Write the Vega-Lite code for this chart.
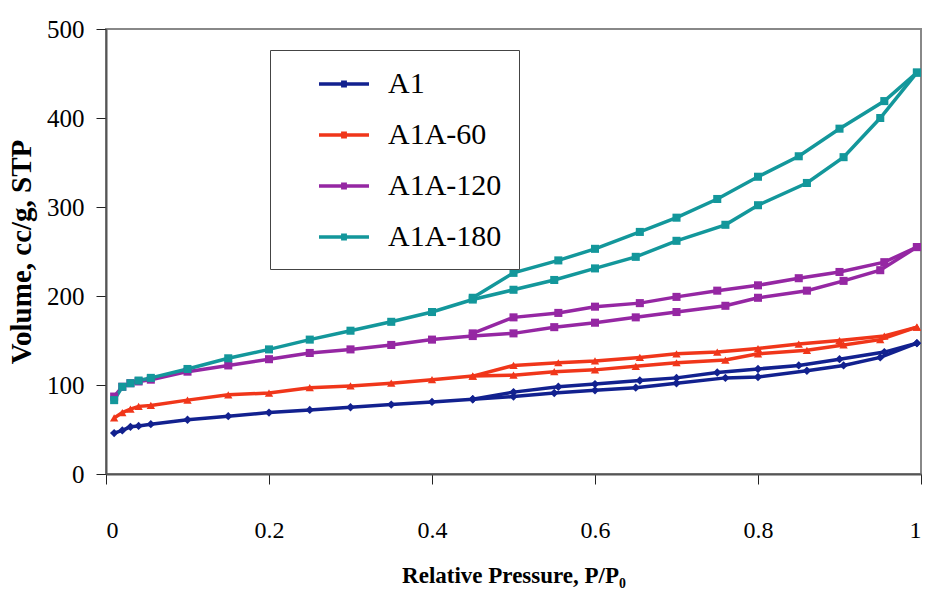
{
  "$schema": "https://vega.github.io/schema/vega-lite/v6.json",
  "width": 815,
  "height": 445,
  "autosize": {"type": "none"},
  "padding": {"left": 106, "top": 29, "right": 8, "bottom": 132},
  "background": "white",
  "config": {
    "view": {"stroke": "#888888", "strokeWidth": 2},
    "font": "Liberation Serif",
    "axis": {"grid": false, "labelColor": "black", "titleColor": "black", "tickColor": "#222", "domainColor": "#555", "domainWidth": 2, "tickSize": 10, "labelFont": "Liberation Serif", "titleFont": "Liberation Serif", "titleFontWeight": "bold"}
  },
  "data": {"values": [
    {"s":"A1","b":"ads","p":0.01,"v":46},{"s":"A1","b":"ads","p":0.02,"v":49},{"s":"A1","b":"ads","p":0.03,"v":53},{"s":"A1","b":"ads","p":0.04,"v":54},{"s":"A1","b":"ads","p":0.055,"v":56},{"s":"A1","b":"ads","p":0.1,"v":61},{"s":"A1","b":"ads","p":0.15,"v":65},{"s":"A1","b":"ads","p":0.2,"v":69},{"s":"A1","b":"ads","p":0.25,"v":72},{"s":"A1","b":"ads","p":0.3,"v":75},{"s":"A1","b":"ads","p":0.35,"v":78},{"s":"A1","b":"ads","p":0.4,"v":81},{"s":"A1","b":"ads","p":0.45,"v":84},{"s":"A1","b":"ads","p":0.5,"v":87},{"s":"A1","b":"ads","p":0.55,"v":91},{"s":"A1","b":"ads","p":0.6,"v":94},{"s":"A1","b":"ads","p":0.65,"v":97},{"s":"A1","b":"ads","p":0.7,"v":102},{"s":"A1","b":"ads","p":0.76,"v":108},{"s":"A1","b":"ads","p":0.8,"v":109},{"s":"A1","b":"ads","p":0.86,"v":116},{"s":"A1","b":"ads","p":0.905,"v":122},{"s":"A1","b":"ads","p":0.95,"v":131},{"s":"A1","b":"ads","p":0.995,"v":147},
    {"s":"A1","b":"des","p":0.995,"v":147},{"s":"A1","b":"des","p":0.955,"v":137},{"s":"A1","b":"des","p":0.9,"v":129},{"s":"A1","b":"des","p":0.85,"v":122},{"s":"A1","b":"des","p":0.8,"v":118},{"s":"A1","b":"des","p":0.75,"v":114},{"s":"A1","b":"des","p":0.7,"v":108},{"s":"A1","b":"des","p":0.655,"v":105},{"s":"A1","b":"des","p":0.6,"v":101},{"s":"A1","b":"des","p":0.555,"v":98},{"s":"A1","b":"des","p":0.5,"v":92},{"s":"A1","b":"des","p":0.45,"v":84},
    {"s":"A1A-60","b":"ads","p":0.01,"v":63},{"s":"A1A-60","b":"ads","p":0.02,"v":69},{"s":"A1A-60","b":"ads","p":0.03,"v":73},{"s":"A1A-60","b":"ads","p":0.04,"v":76},{"s":"A1A-60","b":"ads","p":0.055,"v":77},{"s":"A1A-60","b":"ads","p":0.1,"v":83},{"s":"A1A-60","b":"ads","p":0.15,"v":89},{"s":"A1A-60","b":"ads","p":0.2,"v":91},{"s":"A1A-60","b":"ads","p":0.25,"v":97},{"s":"A1A-60","b":"ads","p":0.3,"v":99},{"s":"A1A-60","b":"ads","p":0.35,"v":102},{"s":"A1A-60","b":"ads","p":0.4,"v":106},{"s":"A1A-60","b":"ads","p":0.45,"v":110},{"s":"A1A-60","b":"ads","p":0.5,"v":111},{"s":"A1A-60","b":"ads","p":0.55,"v":115},{"s":"A1A-60","b":"ads","p":0.6,"v":117},{"s":"A1A-60","b":"ads","p":0.65,"v":121},{"s":"A1A-60","b":"ads","p":0.7,"v":125},{"s":"A1A-60","b":"ads","p":0.76,"v":128},{"s":"A1A-60","b":"ads","p":0.8,"v":135},{"s":"A1A-60","b":"ads","p":0.86,"v":139},{"s":"A1A-60","b":"ads","p":0.905,"v":145},{"s":"A1A-60","b":"ads","p":0.95,"v":151},{"s":"A1A-60","b":"ads","p":0.995,"v":165},
    {"s":"A1A-60","b":"des","p":0.995,"v":165},{"s":"A1A-60","b":"des","p":0.955,"v":155},{"s":"A1A-60","b":"des","p":0.9,"v":150},{"s":"A1A-60","b":"des","p":0.85,"v":146},{"s":"A1A-60","b":"des","p":0.8,"v":141},{"s":"A1A-60","b":"des","p":0.75,"v":137},{"s":"A1A-60","b":"des","p":0.7,"v":135},{"s":"A1A-60","b":"des","p":0.655,"v":131},{"s":"A1A-60","b":"des","p":0.6,"v":127},{"s":"A1A-60","b":"des","p":0.555,"v":125},{"s":"A1A-60","b":"des","p":0.5,"v":122},{"s":"A1A-60","b":"des","p":0.45,"v":110},
    {"s":"A1A-120","b":"ads","p":0.01,"v":87},{"s":"A1A-120","b":"ads","p":0.02,"v":98},{"s":"A1A-120","b":"ads","p":0.03,"v":102},{"s":"A1A-120","b":"ads","p":0.04,"v":104},{"s":"A1A-120","b":"ads","p":0.055,"v":106},{"s":"A1A-120","b":"ads","p":0.1,"v":115},{"s":"A1A-120","b":"ads","p":0.15,"v":122},{"s":"A1A-120","b":"ads","p":0.2,"v":129},{"s":"A1A-120","b":"ads","p":0.25,"v":136},{"s":"A1A-120","b":"ads","p":0.3,"v":140},{"s":"A1A-120","b":"ads","p":0.35,"v":145},{"s":"A1A-120","b":"ads","p":0.4,"v":151},{"s":"A1A-120","b":"ads","p":0.45,"v":155},{"s":"A1A-120","b":"ads","p":0.5,"v":158},{"s":"A1A-120","b":"ads","p":0.55,"v":165},{"s":"A1A-120","b":"ads","p":0.6,"v":170},{"s":"A1A-120","b":"ads","p":0.65,"v":176},{"s":"A1A-120","b":"ads","p":0.7,"v":182},{"s":"A1A-120","b":"ads","p":0.76,"v":189},{"s":"A1A-120","b":"ads","p":0.8,"v":198},{"s":"A1A-120","b":"ads","p":0.86,"v":206},{"s":"A1A-120","b":"ads","p":0.905,"v":217},{"s":"A1A-120","b":"ads","p":0.95,"v":229},{"s":"A1A-120","b":"ads","p":0.995,"v":255},
    {"s":"A1A-120","b":"des","p":0.995,"v":255},{"s":"A1A-120","b":"des","p":0.955,"v":238},{"s":"A1A-120","b":"des","p":0.9,"v":227},{"s":"A1A-120","b":"des","p":0.85,"v":220},{"s":"A1A-120","b":"des","p":0.8,"v":212},{"s":"A1A-120","b":"des","p":0.75,"v":206},{"s":"A1A-120","b":"des","p":0.7,"v":199},{"s":"A1A-120","b":"des","p":0.655,"v":192},{"s":"A1A-120","b":"des","p":0.6,"v":188},{"s":"A1A-120","b":"des","p":0.555,"v":181},{"s":"A1A-120","b":"des","p":0.5,"v":176},{"s":"A1A-120","b":"des","p":0.45,"v":158},
    {"s":"A1A-180","b":"ads","p":0.01,"v":83},{"s":"A1A-180","b":"ads","p":0.02,"v":98},{"s":"A1A-180","b":"ads","p":0.03,"v":102},{"s":"A1A-180","b":"ads","p":0.04,"v":105},{"s":"A1A-180","b":"ads","p":0.055,"v":108},{"s":"A1A-180","b":"ads","p":0.1,"v":118},{"s":"A1A-180","b":"ads","p":0.15,"v":130},{"s":"A1A-180","b":"ads","p":0.2,"v":140},{"s":"A1A-180","b":"ads","p":0.25,"v":151},{"s":"A1A-180","b":"ads","p":0.3,"v":161},{"s":"A1A-180","b":"ads","p":0.35,"v":171},{"s":"A1A-180","b":"ads","p":0.4,"v":182},{"s":"A1A-180","b":"ads","p":0.45,"v":196},{"s":"A1A-180","b":"ads","p":0.5,"v":207},{"s":"A1A-180","b":"ads","p":0.55,"v":218},{"s":"A1A-180","b":"ads","p":0.6,"v":231},{"s":"A1A-180","b":"ads","p":0.65,"v":244},{"s":"A1A-180","b":"ads","p":0.7,"v":262},{"s":"A1A-180","b":"ads","p":0.76,"v":280},{"s":"A1A-180","b":"ads","p":0.8,"v":302},{"s":"A1A-180","b":"ads","p":0.86,"v":327},{"s":"A1A-180","b":"ads","p":0.905,"v":356},{"s":"A1A-180","b":"ads","p":0.95,"v":400},{"s":"A1A-180","b":"ads","p":0.995,"v":451},
    {"s":"A1A-180","b":"des","p":0.995,"v":451},{"s":"A1A-180","b":"des","p":0.955,"v":419},{"s":"A1A-180","b":"des","p":0.9,"v":388},{"s":"A1A-180","b":"des","p":0.85,"v":357},{"s":"A1A-180","b":"des","p":0.8,"v":334},{"s":"A1A-180","b":"des","p":0.75,"v":309},{"s":"A1A-180","b":"des","p":0.7,"v":288},{"s":"A1A-180","b":"des","p":0.655,"v":272},{"s":"A1A-180","b":"des","p":0.6,"v":253},{"s":"A1A-180","b":"des","p":0.555,"v":240},{"s":"A1A-180","b":"des","p":0.5,"v":226},{"s":"A1A-180","b":"des","p":0.45,"v":198}
  ]},
  "encoding": {
    "x": {"field": "p", "type": "quantitative", "scale": {"domain": [0, 1]},
      "axis": {"values": [0, 0.2, 0.4, 0.6, 0.8, 1], "format": "~g", "title": "Relative Pressure, P/P₀", "titleFontSize": 23, "labelFontSize": 24, "labelPadding": 34, "titlePadding": 22}},
    "y": {"field": "v", "type": "quantitative", "scale": {"domain": [0, 500]},
      "axis": {"values": [0, 100, 200, 300, 400, 500], "title": "Volume, cc/g, STP", "titleFontSize": 29, "labelFontSize": 25, "labelPadding": 12, "titlePadding": 10}},
    "color": {"field": "s", "type": "nominal", "title": null,
      "scale": {"domain": ["A1", "A1A-60", "A1A-120", "A1A-180"], "range": ["#12218f", "#f0361a", "#9527a3", "#13979b"]},
      "legend": {
        "orient": "none", "legendX": 164, "legendY": 21,
        "strokeColor": "#444444", "fillColor": "white", "padding": 17,
        "symbolType": "M1.0,-0.05H4.0V0.05H1.0Z M2.38,-0.15H2.62V0.15H2.38Z",
        "symbolSize": 1024, "symbolStrokeWidth": 2,
        "labelFontSize": 30, "labelFont": "Liberation Serif", "labelColor": "black",
        "rowPadding": 19, "labelOffset": 67
      }}
  },
  "layer": [
    {"mark": {"type": "line", "strokeWidth": 3.5},
     "encoding": {"detail": {"field": "b"}, "order": {"field": "p", "type": "quantitative"}}},
    {"transform": [{"filter": "datum.s === 'A1'"}],
     "mark": {"type": "point", "filled": true, "opacity": 1, "size": 70, "shape": "diamond"}},
    {"transform": [{"filter": "datum.s === 'A1A-60'"}],
     "mark": {"type": "point", "filled": true, "opacity": 1, "size": 70, "shape": "triangle-up"}},
    {"transform": [{"filter": "datum.s === 'A1A-120'"}],
     "mark": {"type": "point", "filled": true, "opacity": 1, "size": 65, "shape": "square"}},
    {"transform": [{"filter": "datum.s === 'A1A-180'"}],
     "mark": {"type": "point", "filled": true, "opacity": 1, "size": 65, "shape": "square"}}
  ]
}
